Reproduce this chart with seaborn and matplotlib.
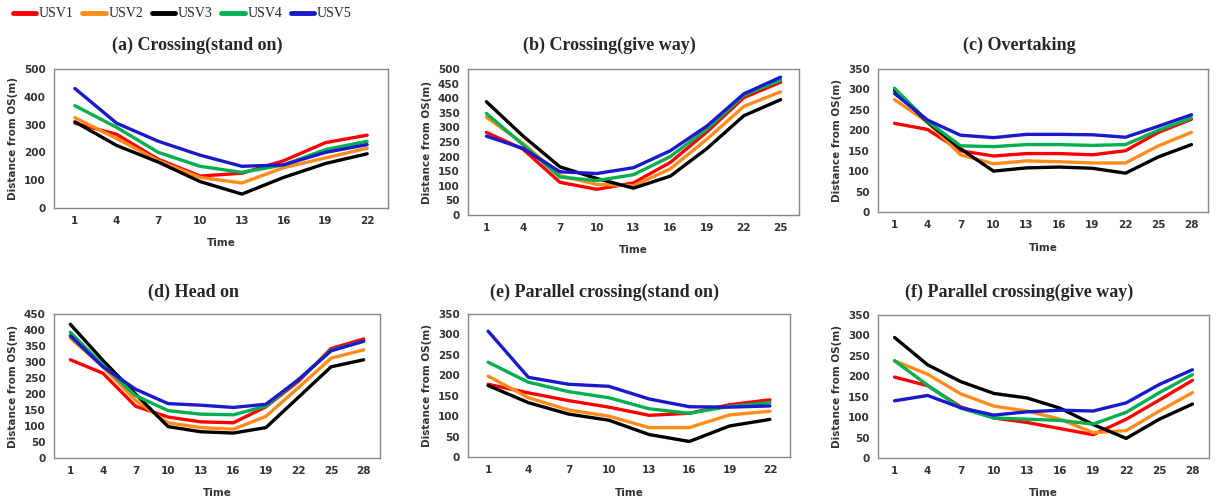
import numpy as np
import pandas as pd
import matplotlib
matplotlib.use("Agg")
import matplotlib.pyplot as plt
import seaborn as sns
from matplotlib.lines import Line2D

series_names = ["USV1", "USV2", "USV3", "USV4", "USV5"]
colors = ["#FF0000", "#FF8C1A", "#000000", "#00B050", "#1A1ACC"]

titles = ["(a) Crossing(stand on)", "(b) Crossing(give way)", "(c) Overtaking",
          "(d) Head on", "(e) Parallel crossing(stand on)", "(f) Parallel crossing(give way)"]

time_a = [1, 4, 7, 10, 13, 16, 19, 22]
a_usv1 = [305, 265, 175, 115, 125, 170, 235, 262]
a_usv2 = [325, 250, 170, 110, 90, 145, 180, 215]
a_usv3 = [310, 225, 165, 95, 50, 110, 160, 195]
a_usv4 = [368, 290, 200, 150, 128, 155, 210, 240]
a_usv5 = [430, 305, 240, 190, 150, 155, 200, 228]

time_b = [1, 4, 7, 10, 13, 16, 19, 22, 25]
b_usv1 = [283, 225, 112, 88, 110, 180, 285, 402, 455]
b_usv2 = [335, 245, 135, 105, 100, 158, 260, 372, 422]
b_usv3 = [388, 270, 165, 125, 92, 133, 228, 340, 395]
b_usv4 = [348, 240, 130, 118, 138, 200, 295, 410, 462]
b_usv5 = [270, 228, 148, 142, 162, 220, 305, 415, 472]

time_c = [1, 4, 7, 10, 13, 16, 19, 22, 25, 28]
c_usv1 = [217, 202, 150, 137, 143, 143, 140, 150, 195, 227]
c_usv2 = [275, 220, 140, 118, 125, 123, 120, 120, 162, 195]
c_usv3 = [298, 220, 155, 100, 108, 110, 107, 95, 135, 165]
c_usv4 = [303, 222, 162, 160, 165, 165, 163, 165, 200, 230]
c_usv5 = [290, 225, 188, 182, 190, 190, 189, 183, 210, 238]

time_d = [1, 4, 7, 10, 13, 16, 19, 22, 25, 28]
d_usv1 = [307, 265, 162, 128, 113, 110, 160, 240, 342, 372]
d_usv2 = [375, 285, 180, 110, 95, 90, 130, 220, 312, 338]
d_usv3 = [418, 305, 200, 98, 82, 78, 95, 190, 285, 307]
d_usv4 = [393, 290, 195, 148, 137, 135, 162, 245, 337, 365]
d_usv5 = [382, 285, 215, 170, 165, 158, 168, 245, 335, 365]

time_e = [1, 4, 7, 10, 13, 16, 19, 22]
e_usv1 = [178, 157, 138, 122, 102, 107, 128, 140]
e_usv2 = [198, 145, 115, 100, 72, 72, 103, 112]
e_usv3 = [175, 133, 105, 90, 55, 38, 76, 92]
e_usv4 = [232, 183, 160, 145, 118, 107, 124, 133]
e_usv5 = [308, 195, 178, 173, 142, 123, 122, 125]

time_f = [1, 4, 7, 10, 13, 16, 19, 22, 25, 28]
f_usv1 = [198, 177, 125, 98, 87, 72, 57, 95, 142, 190]
f_usv2 = [238, 205, 157, 127, 115, 95, 62, 67, 115, 160]
f_usv3 = [295, 228, 187, 158, 147, 122, 82, 48, 95, 132]
f_usv4 = [238, 178, 122, 98, 95, 92, 83, 112, 160, 204]
f_usv5 = [140, 153, 123, 105, 113, 117, 115, 135, 180, 216]

y_max = [500, 500, 350, 450, 350, 350]
y_step = [100, 50, 50, 50, 50, 50]

panels = [
    (time_a, [a_usv1, a_usv2, a_usv3, a_usv4, a_usv5]),
    (time_b, [b_usv1, b_usv2, b_usv3, b_usv4, b_usv5]),
    (time_c, [c_usv1, c_usv2, c_usv3, c_usv4, c_usv5]),
    (time_d, [d_usv1, d_usv2, d_usv3, d_usv4, d_usv5]),
    (time_e, [e_usv1, e_usv2, e_usv3, e_usv4, e_usv5]),
    (time_f, [f_usv1, f_usv2, f_usv3, f_usv4, f_usv5]),
]

sns.set_style("white")
plt.rcParams["font.family"] = ["DejaVu Sans"]

W, H = 1219, 503
fig = plt.figure(figsize=(W / 100, H / 100), dpi=100)

# axes boxes in pixels: left, right, top, bottom
boxes = [(54, 388, 69, 208), (468, 799, 69, 215), (878, 1208, 69, 212),
         (54, 380, 314, 458), (468, 790, 314, 457), (878, 1209, 315, 458)]
title_y = [45, 45, 45, 292, 292, 292]
xlabel_y = [243, 250, 248, 493, 493, 493]

palette = dict(zip(series_names, colors))
for i, ((t, vals), (l, r, tp, bt)) in enumerate(zip(panels, boxes)):
    ax = fig.add_axes([l / W, 1 - bt / H, (r - l) / W, (bt - tp) / H])
    df = pd.DataFrame({"Time": np.tile(t, 5),
                       "Distance": np.concatenate(vals),
                       "USV": np.repeat(series_names, len(t))})
    sns.lineplot(data=df, x="Time", y="Distance", hue="USV", palette=palette,
                 linewidth=2.4, ax=ax, legend=False)
    ax.set_xlim(t[0] - 1.5, t[-1] + 1.5)
    ax.set_ylim(0, y_max[i])
    ax.set_xticks(t)
    ax.set_xticklabels([str(v) for v in t], fontsize=7.5, fontweight="bold", color="#333333")
    yt = list(range(0, y_max[i] + 1, y_step[i]))
    ax.set_yticks(yt)
    ax.set_yticklabels([str(v) for v in yt], fontsize=7.5, fontweight="bold", color="#333333")
    ax.tick_params(length=0, pad=6)
    ax.set_xlabel("")
    ax.set_ylabel("Distance from OS(m)", fontsize=7.5, fontweight="bold", color="#333333", labelpad=4)
    for s in ax.spines.values():
        s.set_color("#888888")
        s.set_linewidth(1.0)
    cx = (l + r) / 2
    fig.text(cx / W, 1 - xlabel_y[i] / H, "Time", ha="center", va="center",
             fontsize=7.5, fontweight="bold", color="#333333")
    fig.text((cx - 24) / W, 1 - title_y[i] / H, titles[i], ha="center", va="center",
             fontsize=13, fontweight="bold", family=["Liberation Serif", "DejaVu Serif"])

handles = [Line2D([], [], color=c, linewidth=3.5) for c in colors]
fig.legend(handles, series_names, loc="upper left", bbox_to_anchor=(0.0, 1.01), ncol=5,
           frameon=False, handlelength=1.7, handletextpad=0.2, columnspacing=0.6,
           prop={"family": ["Liberation Serif", "DejaVu Serif"], "size": 10})

fig.savefig("out.png", dpi=100)
